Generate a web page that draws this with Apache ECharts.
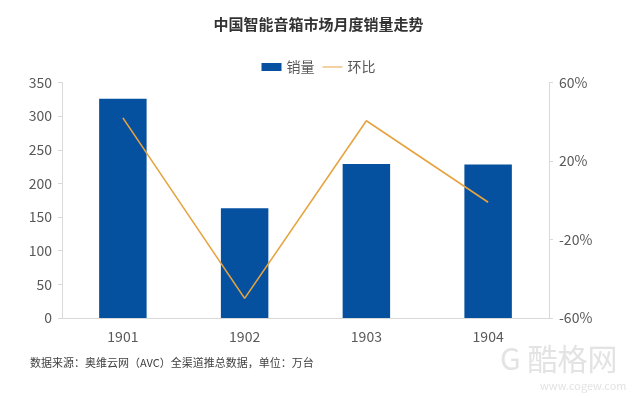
<!DOCTYPE html>
<html>
<head>
<meta charset="utf-8">
<script src="https://cdn.jsdelivr.net/npm/echarts@6/dist/echarts.min.js"></script>
<style>
  html, body { margin: 0; padding: 0; background: #fff; }
  #main { width: 637px; height: 398px; }
</style>
</head>
<body>
<div id="main"></div>
<script>
// 月份
var months = ['1901', '1902', '1903', '1904'];
// 销量（万台）
var sales = [326, 163, 229, 228];
// 环比（%）
var mom = [42, -50, 40.5, -1];

var myChart = echarts.init(document.getElementById('main'));
var font = '"Noto Sans CJK SC", "Noto Sans", sans-serif';
var option = {
    animation: false,
    textStyle: { fontFamily: font },
    title: {
        text: '中国智能音箱市场月度销量走势',
        left: 'center',
        top: 12,
        textStyle: { fontSize: 15, fontWeight: 'bold', color: '#333', fontFamily: font }
    },
    legend: {
        top: 55,
        left: 'center',
        itemWidth: 20,
        itemHeight: 8,
        itemGap: 8,
        textStyle: { fontSize: 14, color: '#595959', fontFamily: font },
        data: [
            { name: '销量', icon: 'rect' },
            { name: '环比', icon: 'path://M0,4 L20,4 L20,5 L0,5 Z' }
        ]
    },
    grid: { left: 62, right: 88, top: 82.5, bottom: 80 },
    xAxis: {
        type: 'category',
        data: months,
        axisLine: { lineStyle: { color: '#d9d9d9' } },
        axisTick: { show: false },
        axisLabel: { fontSize: 14, color: '#595959', margin: 12 }
    },
    yAxis: [
        {
            type: 'value',
            min: 0, max: 350, interval: 50,
            splitLine: { show: false },
            axisLine: { show: true, lineStyle: { color: '#d9d9d9' } },
            axisTick: { show: true, length: 4, inside: false, lineStyle: { color: '#d9d9d9' } },
            axisLabel: { fontSize: 14, color: '#595959', margin: 10 }
        },
        {
            type: 'value',
            min: -60, max: 60, interval: 40,
            splitLine: { show: false },
            axisLine: { show: true, lineStyle: { color: '#d9d9d9' } },
            axisTick: { show: true, length: 4, lineStyle: { color: '#d9d9d9' } },
            axisLabel: { fontSize: 14, color: '#595959', margin: 10, formatter: '{value}%' }
        }
    ],
    series: [
        {
            name: '销量',
            type: 'bar',
            data: sales,
            barWidth: '39%',
            itemStyle: { color: '#0551a0' }
        },
        {
            name: '环比',
            type: 'line',
            yAxisIndex: 1,
            data: mom,
            symbol: 'none',
            lineStyle: { color: '#e6a340', width: 1.6 },
            itemStyle: { color: '#e6a340' }
        }
    ],
    graphic: [
        {
            type: 'text', left: 30, top: 357,
            style: { text: '数据来源：奥维云网（AVC）全渠道推总数据，单位：万台', fontSize: 11, fill: '#404040', fontFamily: font }
        },
        {
            type: 'text', left: 500, top: 344,
            style: { text: 'G 酷格网', fontSize: 30, fill: '#e3e3e3', fontFamily: font }
        },
        {
            type: 'text', left: 540, top: 380,
            style: { text: 'www.cogew.com', fontSize: 11, fill: '#e3e3e3', fontFamily: font }
        }
    ]
};
myChart.setOption(option);
</script>
</body>
</html>
